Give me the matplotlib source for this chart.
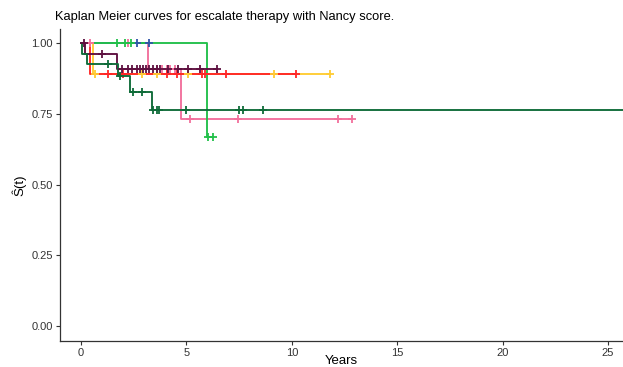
import numpy as np
import matplotlib
matplotlib.use("Agg")
import matplotlib.pyplot as plt

plt.rcParams["font.family"] = ["Liberation Sans", "DejaVu Sans"]

# Kaplan-Meier curves, one entry per Nancy score group
# event_times / surv: step drops; end: last follow-up; censor: censoring times
green_events = [5.98]
green_surv = [0.667]
green_end = 6.26
green_censor = [1.69, 2.09, 2.37, 6.04, 6.26]

blue_events = []
blue_surv = []
blue_end = 3.23
blue_censor = [2.67, 3.23]

pink_events = [3.19, 4.73]
pink_surv = [0.908, 0.731]
pink_end = 12.84
pink_censor = [0.45, 2.21, 3.59, 3.83, 4.06, 4.22, 4.46, 5.17, 7.46, 12.2, 12.84]

yellow_events = [0.58]
yellow_surv = [0.889]
yellow_end = 11.81
yellow_censor = [0.66, 2.88, 3.59, 5.09, 9.17, 11.81]

red_events = [0.43]
red_surv = [0.889]
red_end = 10.2
red_censor = [1.30, 1.98, 4.06, 4.54, 5.72, 5.88, 6.86, 10.2]

maroon_events = [0.19, 1.69]
maroon_surv = [0.96, 0.907]
maroon_end = 6.43
maroon_censor = [0.12, 1.01, 1.93, 2.24, 2.41, 2.64, 2.80, 2.96, 3.08, 3.24, 3.40,
                 3.59, 3.75, 4.14, 4.61, 5.09, 5.65, 6.43]

dkgreen_events = [0.05, 0.27, 1.77, 2.32, 3.35]
dkgreen_surv = [0.963, 0.926, 0.885, 0.826, 0.762]
dkgreen_end = 26.0
dkgreen_censor = [1.30, 1.85, 2.45, 2.88, 3.43, 3.59, 3.72, 4.97, 7.51, 7.67, 8.65]

curves = [
    (pink_events, pink_surv, pink_end, pink_censor, "#F2709C"),
    (blue_events, blue_surv, blue_end, blue_censor, "#2F55A8"),
    (green_events, green_surv, green_end, green_censor, "#22C04A"),
    (yellow_events, yellow_surv, yellow_end, yellow_censor, "#FFCC33"),
    (red_events, red_surv, red_end, red_censor, "#FF2626"),
    (maroon_events, maroon_surv, maroon_end, maroon_censor, "#5E1040"),
    (dkgreen_events, dkgreen_surv, dkgreen_end, dkgreen_censor, "#0E6B38"),
]

fig = plt.figure(figsize=(6.23, 3.67), dpi=100)
ax = fig.add_axes([0.0963, 0.0708, 0.9037, 0.8505])

for events, surv, end, censor, color in curves:
    t = np.array([0.0] + list(events) + [end])
    s = np.array([1.0] + list(surv) + [surv[-1] if surv else 1.0])
    ax.step(t, s, where="post", color=color, lw=1.35, zorder=2)
    idx = np.searchsorted(t[:-1], np.array(censor), side="right") - 1
    ax.plot(censor, s[idx], ls="none", marker="+", ms=6, mew=1.3,
            color=color, zorder=3)

ax.set_xlim(-0.996, 25.71)
ax.set_ylim(-0.053, 1.05)
ax.set_xticks([0, 5, 10, 15, 20, 25])
ax.set_yticks([0, 0.25, 0.5, 0.75, 1.0])
ax.set_yticklabels(["0.00", "0.25", "0.50", "0.75", "1.00"])

for side in ("top", "right"):
    ax.spines[side].set_visible(False)
for side in ("left", "bottom"):
    ax.spines[side].set_color("#333333")
    ax.spines[side].set_linewidth(0.9)
ax.tick_params(colors="#333333", labelcolor="#333333", labelsize=8,
               length=3, width=0.8, pad=2)

ax.set_xlabel("Years", fontsize=9.5)
ax.xaxis.set_label_coords(0.5, -0.046)
ax.set_ylabel("Ŝ(t)", fontsize=9.5, labelpad=4)

fig.text(0.088, 0.955, "Kaplan Meier curves for escalate therapy with Nancy score.",
         fontsize=9.3, ha="left", va="center")

fig.savefig("out.png", dpi=100)
